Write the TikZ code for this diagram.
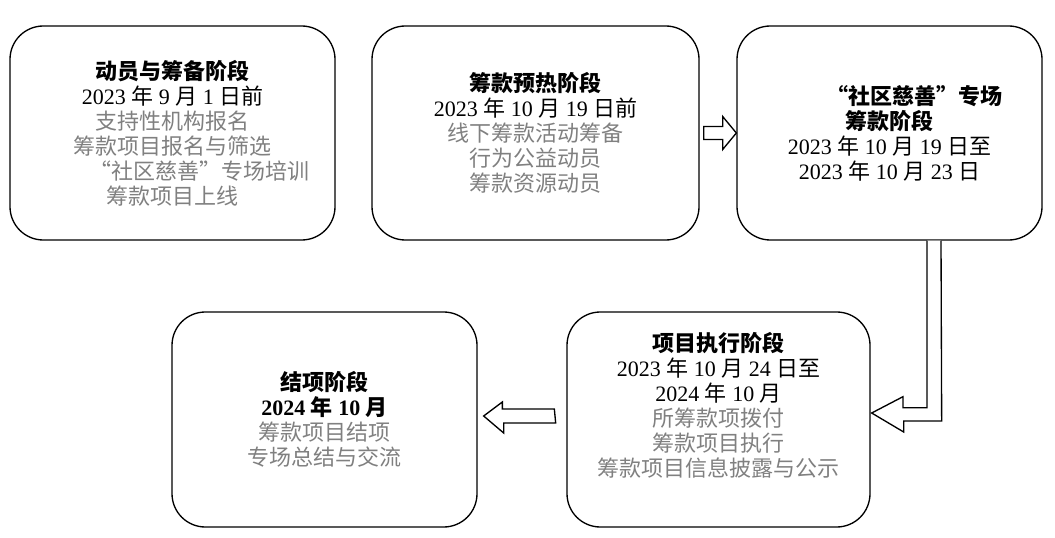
\documentclass[tikz,border=0pt]{standalone}
\usepackage{fontspec}
\setmainfont{Liberation Serif}
\newfontfamily\cjk{Noto Sans CJK SC}
\usetikzlibrary{calc}
\definecolor{itemgray}{RGB}{128,128,128}
\newcommand\zh[1]{{\cjk #1}}
\newcommand\itm[1]{\textcolor{itemgray}{\cjk #1}}
\tikzset{
  stage/.style={draw, line width=1pt, rounded corners=25pt, align=center, inner sep=0pt,
    font=\fontsize{16.5}{18.75}\selectfont},
  blockarrow/.style={draw, line width=1pt, fill=white, miter limit=10}
}

\begin{document}
\begin{tikzpicture}[x=0.75pt,y=0.75pt,yscale=-1,xscale=1]
\useasboundingbox (0,0) rectangle (1055,538);

%Rounded Rect [id:prepare]
\node [stage, minimum width=243.75pt, minimum height=160.5pt] (mobil) at (172.5,133)
  {\textbf{\zh{动员与筹备阶段}}\\
   2023 \zh{年} 9 \zh{月} 1 \zh{日前}\\
   \itm{支持性机构报名}\\
   \itm{筹款项目报名与筛选}\\
   \hspace*{40pt}\itm{“社区慈善”专场培训}\\
   \itm{筹款项目上线}};
%Rounded Rect [id:warmup]
\node [stage, minimum width=245.25pt, minimum height=160.5pt] (prep) at (535.5,133)
  {\textbf{\zh{筹款预热阶段}}\\
   2023 \zh{年} 10 \zh{月} 19 \zh{日前}\\
   \itm{线下筹款活动筹备}\\
   \itm{行为公益动员}\\
   \itm{筹款资源动员}};
%Rounded Rect [id:live]
\node [stage, minimum width=228.75pt, minimum height=160.5pt] (live) at (889.5,133)
  {\hspace*{38pt}\textbf{\zh{“社区慈善”专场}}\\
   \textbf{\zh{筹款阶段}}\\
   2023 \zh{年} 10 \zh{月} 19 \zh{日至}\\
   2023 \zh{年} 10 \zh{月} 23 \zh{日}};
%Rounded Rect [id:execute]
\node [stage, minimum width=227.25pt, minimum height=161.25pt, text depth=22pt] (exec) at (718.5,419.5)
  {\textbf{\zh{项目执行阶段}}\\
   2023 \zh{年} 10 \zh{月} 24 \zh{日至}\\
   2024 \zh{年} 10 \zh{月}\\
   \itm{所筹款项拨付}\\
   \itm{筹款项目执行}\\
   \itm{筹款项目信息披露与公示}};
%Rounded Rect [id:close]
\node [stage, minimum width=228.75pt, minimum height=161.25pt] (close) at (324.5,419.5)
  {\textbf{\zh{结项阶段}}\\
   \textbf{2024 \zh{年} 10 \zh{月}}\\
   \itm{筹款项目结项}\\
   \itm{专场总结与交流}};

%Right Arrow [id:prep-live]
\draw [blockarrow] ($(prep.east)+(4,-6.5)$) -- ++(19,0) -- ++(0,-10) -- (live.west)
  -- ($(prep.east)+(23,16.5)$) -- ++(0,-10) -- ++(-19,0) -- cycle ;
%Bent Arrow [id:live-exec]
\draw [blockarrow] ($(live.south)+(37.5,0)$) -- ++(0,167) -- ++(-24,0) -- ++(0,-11)
  -- ($(exec.east)+(1,-6.5)$) -- ($(exec.east)+(33,12.5)$) -- ++(0,-11) -- ++(38,0)
  -- ($(live.south)+(51.5,0)$) ;
%Left Arrow [id:exec-close]
\draw [blockarrow] ($(exec.west)+(-12,-10.5)$) -- ++(-52,0) -- ++(0,-7)
  -- ($(close.east)+(6,-3.5)$) -- ($(close.east)+(26,13.5)$) -- ++(0,-10) -- ++(52,0) -- cycle ;

\end{tikzpicture}
\end{document}
